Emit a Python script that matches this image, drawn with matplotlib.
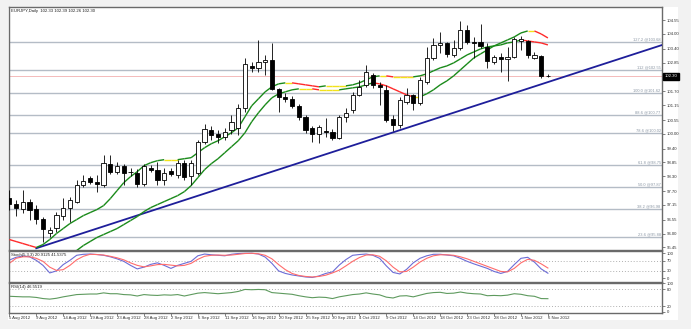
import numpy as np
import matplotlib.pyplot as plt
from matplotlib.patches import Rectangle
from matplotlib.collections import LineCollection
from matplotlib.transforms import blended_transform_factory

plt.rcParams['font.family'] = ['Liberation Sans', 'DejaVu Sans']

W, H = 691, 329
FS = 3.1

# EURJPY daily bars, 5 Aug 2012 .. 6 Nov 2012 (index 0..80)
opens = [97.43, 97.19, 96.99, 97.27, 96.99, 96.59, 96.03, 96.23, 96.71, 97.03,
         97.27, 97.95, 98.23, 98.07, 97.95, 98.79, 98.47, 98.71, 98.47, 98.43,
         97.99, 98.63, 98.55, 98.15, 98.51, 98.35, 98.83, 98.31, 98.43, 99.67,
         100.15, 99.99, 99.87, 100.15, 100.23, 101.04, 102.72, 102.64, 102.88, 102.96,
         101.80, 101.48, 101.40, 101.12, 100.68, 100.23, 99.99, 100.11, 100.07, 99.83,
         100.68, 100.96, 101.56, 101.96, 102.36, 101.96, 101.76, 100.60, 100.35, 101.28,
         101.56, 101.24, 102.08, 103.04, 103.56, 103.64, 103.16, 103.44, 104.16, 103.68,
         103.68, 103.48, 102.88, 103.08, 103.00, 103.08, 103.72, 103.72, 103.04, 103.12,
         102.33]
highs = [97.75, 97.35, 97.75, 97.39, 97.15, 96.67, 96.25, 96.87, 97.43, 97.47,
         98.15, 98.35, 98.31, 98.35, 99.15, 99.15, 98.87, 98.79, 98.63, 98.59,
         98.79, 98.75, 98.87, 98.63, 98.63, 98.95, 98.95, 98.95, 99.75, 100.39,
         100.31, 100.15, 100.23, 100.76, 101.20, 103.04, 102.88, 103.76, 103.16, 103.64,
         101.84, 101.64, 101.52, 101.20, 100.76, 100.31, 100.35, 100.64, 100.19, 100.76,
         101.04, 101.68, 102.16, 102.76, 102.44, 102.08, 101.96, 100.76, 101.48, 101.84,
         101.60, 102.28, 103.48, 103.84, 104.08, 103.68, 103.76, 104.52, 104.36, 103.88,
         104.40, 103.64, 103.16, 103.24, 103.48, 103.88, 103.92, 103.76, 103.28, 103.16,
         102.39]
lows = [96.95, 96.71, 96.83, 96.55, 96.39, 95.67, 95.87, 96.07, 96.55, 96.47,
        97.23, 97.87, 97.99, 97.67, 97.87, 98.39, 98.39, 97.95, 98.31, 97.87,
        97.91, 98.47, 97.95, 97.95, 98.31, 98.23, 98.15, 97.95, 98.35, 99.59,
        99.75, 99.63, 99.75, 99.99, 99.95, 100.88, 102.48, 102.48, 102.36, 101.76,
        100.88, 101.28, 101.04, 100.56, 100.04, 99.67, 99.63, 99.87, 99.75, 99.79,
        100.47, 100.84, 101.52, 101.88, 101.84, 101.16, 100.47, 100.11, 100.23, 101.20,
        100.96, 101.16, 102.00, 102.96, 103.24, 103.08, 103.08, 103.36, 103.60, 103.04,
        103.44, 102.64, 102.80, 102.48, 102.12, 103.04, 103.36, 103.04, 103.00, 102.24,
        102.26]
closes = [97.19, 97.03, 97.27, 96.95, 96.59, 96.19, 96.15, 96.75, 97.03, 97.35,
          97.95, 98.11, 98.07, 97.99, 98.83, 98.47, 98.71, 98.43, 98.45, 97.99,
          98.71, 98.55, 98.15, 98.43, 98.39, 98.83, 98.27, 98.83, 99.67, 100.19,
          99.95, 99.87, 100.07, 100.47, 101.04, 102.80, 102.64, 102.88, 102.96, 101.80,
          101.48, 101.40, 101.12, 100.68, 100.15, 99.99, 100.27, 100.07, 99.83, 100.68,
          100.84, 101.56, 101.88, 102.48, 101.96, 101.88, 100.55, 100.35, 101.36, 101.56,
          101.24, 102.16, 103.04, 103.56, 103.64, 103.20, 103.44, 104.16, 103.68, 103.64,
          103.52, 102.92, 103.08, 103.00, 103.08, 103.80, 103.80, 103.16, 103.16, 102.33,
          102.30]

# the two trend-coloured averages
ma_fast = [95.76, 95.68, 95.60, 95.52, 95.44, 95.56, 95.76, 96.00, 96.20, 96.40,
           96.56, 96.72, 96.84, 96.96, 97.12, 97.40, 97.72, 98.04, 98.28, 98.48,
           98.72, 98.84, 98.92, 98.96, 98.96, 98.96, 99.00, 99.04, 99.24, 99.44,
           99.60, 99.72, 99.88, 100.04, 100.24, 100.68, 101.12, 101.40, 101.68, 101.88,
           102.00, 102.04, 102.04, 102.00, 101.96, 101.92, 101.88, 101.92, 101.92, 101.92,
           101.92, 101.96, 102.04, 102.16, 102.28, 102.32, 102.32, 102.28, 102.28, 102.28,
           102.28, 102.32, 102.40, 102.52, 102.64, 102.72, 102.84, 103.00, 103.16, 103.28,
           103.40, 103.48, 103.52, 103.56, 103.64, 103.68, 103.76, 103.72, 103.68, 103.64,
           103.56]
ma_slow = [np.nan] * 10 + [
           95.32, 95.52, 95.68, 95.84, 95.96, 96.08, 96.20, 96.36, 96.52, 96.68,
           96.88, 97.04, 97.16, 97.28, 97.40, 97.52, 97.68, 97.92, 98.24, 98.56,
           98.80, 99.00, 99.24, 99.48, 99.72, 100.04, 100.48, 100.84, 101.16, 101.44,
           101.60, 101.68, 101.76, 101.80, 101.80, 101.80, 101.76, 101.76, 101.76, 101.76,
           101.80, 101.84, 101.88, 101.96, 102.04, 102.00, 101.92, 101.80, 101.68, 101.56,
           101.48, 101.48, 101.60, 101.76, 101.96, 102.12, 102.32, 102.56, 102.80, 103.04,
           103.20, 103.36, 103.52, 103.64, 103.76, 103.88, 104.04, 104.12, 104.12, 104.00,
           103.84]

stoch_main = [73, 84, 89, 86, 72, 52, 22, 30, 55, 72,
              92, 96, 97, 95, 92, 86, 78, 68, 52, 38,
              45, 56, 62, 52, 40, 52, 60, 68, 90, 97,
              94, 92, 90, 96, 99, 100, 100, 97, 85, 60,
              30, 20, 14, 10, 6, 4, 10, 20, 26, 53,
              75, 92, 95, 97, 92, 80, 50, 24, 18, 36,
              62, 80, 90, 96, 96, 93, 90, 80, 68, 58,
              49, 40, 28, 20, 28, 55, 80, 84, 65, 38,
              20.9125]
stoch_signal = [60, 80, 86, 86, 80, 68, 45, 32, 35, 52,
                74, 88, 96, 95, 93, 88, 82, 74, 62, 52,
                46, 50, 55, 56, 53, 50, 52, 60, 76, 88,
                92, 93, 92, 93, 96, 99, 100, 98, 92, 78,
                55, 35, 20, 12, 8, 6, 8, 13, 22, 33,
                50, 68, 83, 93, 94, 88, 70, 45, 26, 28,
                45, 65, 80, 90, 94, 94, 92, 86, 78, 68,
                58, 48, 38, 28, 26, 40, 62, 76, 72, 58,
                41.5375]
rsi = [55, 54, 53, 53, 51, 47, 45, 48, 53, 57,
       61, 62, 63, 63, 67, 64, 64, 61, 60, 56,
       61, 59, 58, 60, 59, 61, 56, 61, 66, 68,
       66, 64, 66, 68, 72, 79, 78, 79, 78, 68,
       66, 64, 62, 57, 53, 50, 52, 51, 47, 53,
       57, 61, 63, 67, 63, 60, 52, 49, 56, 57,
       53, 59, 65, 68, 69, 65, 66, 70, 66, 64,
       63, 57, 58, 57, 59, 64, 62, 57, 55, 47,
       46.5519]

date_labels = ['5 Aug 2012', '9 Aug 2012', '14 Aug 2012', '19 Aug 2012', '23 Aug 2012',
               '28 Aug 2012', '2 Sep 2012', '6 Sep 2012', '11 Sep 2012', '16 Sep 2012',
               '20 Sep 2012', '25 Sep 2012', '30 Sep 2012', '4 Oct 2012', '9 Oct 2012',
               '14 Oct 2012', '18 Oct 2012', '23 Oct 2012', '28 Oct 2012', '1 Nov 2012',
               '6 Nov 2012']
price_ticks = [104.55, 104.00, 103.40, 102.85, 101.70, 101.15, 100.55, 100.00,
               99.40, 98.85, 98.30, 97.70, 97.15, 96.55, 96.00, 95.45]
fib_names = ['127.2', '112', '100.0', '88.6', '78.6', '61.8', '50.0', '38.2', '23.6']
fib_prices = [103.68, 102.55, 101.62, 100.77, 100.02, 98.75, 97.87, 96.98, 95.88]
trend_bars = [4, 97]
trend_prices = [95.41, 103.56]
last_price = 102.30

n = len(closes)
idx = np.arange(n)

fig = plt.figure(figsize=(W / 100, H / 100), dpi=100, facecolor='#f2f2f2')
fig.patches.append(Rectangle((8 / W, 1 - 320 / H), 670 / W, 313 / H,
                             transform=fig.transFigure, facecolor='white',
                             edgecolor='none', zorder=-1))


def panel(y0, y1):
    ax = fig.add_axes([9 / W, 1 - y1 / H, 653 / W, (y1 - y0) / H])
    ax.set_facecolor('white')
    ax.set_xlim(-0.05, 96.95)
    for s in ax.spines.values():
        s.set_color('#6a6a6a')
        s.set_linewidth(1.0)
    ax.yaxis.tick_right()
    ax.tick_params(axis='y', length=2, width=0.5, color='#505050',
                   labelsize=FS, pad=1.2, labelcolor='#303030')
    ax.tick_params(axis='x', bottom=False, labelbottom=False)
    return ax


def trend_line(ax, vals):
    v = np.asarray(vals, dtype=float)
    segs, cols = [], []
    for i in range(len(v) - 1):
        if np.isnan(v[i]) or np.isnan(v[i + 1]):
            continue
        d = v[i + 1] - v[i]
        if d > 0.015:
            c = '#1a8a1a'
        elif d < -0.015:
            c = '#ff2a2a'
        else:
            c = '#f2e21a'
        segs.append([(i, v[i]), (i + 1, v[i + 1])])
        cols.append(c)
    ax.add_collection(LineCollection(segs, colors=cols, linewidths=1.0, zorder=4))


# ---- price panel
ax = panel(7, 250)
ax.set_ylim(95.34, 105.08)
ax.set_yticks(price_ticks)
ax.set_yticklabels(['%.2f' % p for p in price_ticks])

for name, p in zip(fib_names, fib_prices):
    ax.axhline(p, color='#b4bcc6', lw=1.0, zorder=1)
    ax.text(96.75, p + 0.02, '%s @%.2f' % (name, p), ha='right', va='bottom',
            fontsize=2.9, color='#8a96a4', zorder=2)
ax.axhline(last_price, color='#f2b0b0', lw=0.6, zorder=1)

o, hi, lo, c = map(np.asarray, (opens, highs, lows, closes))
ax.vlines(idx, lo, hi, color='black', lw=0.6, zorder=5)
up = c >= o
body_lo = np.minimum(o, c)
body_h = np.maximum(np.abs(c - o), 0.012)
ax.bar(idx[up], body_h[up], bottom=body_lo[up], width=0.62, facecolor='white',
       edgecolor='black', linewidth=0.6, zorder=6)
ax.bar(idx[~up], body_h[~up], bottom=body_lo[~up], width=0.62, facecolor='black',
       edgecolor='black', linewidth=0.6, zorder=6)

trend_line(ax, ma_fast)
trend_line(ax, ma_slow)
ax.plot(trend_bars, trend_prices, color='#1e1e9a', lw=1.3, zorder=3)

tr = blended_transform_factory(ax.transAxes, ax.transData)
ax.text(1.004, last_price, '%.2f' % last_price, transform=tr, fontsize=FS,
        color='white', va='center', ha='left',
        bbox=dict(boxstyle='square,pad=0.3', facecolor='black', edgecolor='black'),
        zorder=10, clip_on=False)
fig.text(11 / W, 1 - 11 / H, 'EURJPY,Daily  102.33 102.39 102.26 102.30',
         fontsize=FS, color='#202020', va='center')

# ---- stochastic panel
ax2 = panel(250.5, 281.5)
ax2.set_ylim(-12, 111)
ax2.set_yticks([100, 70, 30, 0])
ax2.set_yticklabels(['100', '70', '30', '0'])
for lev in (70, 30):
    ax2.axhline(lev, color='#b0b0b0', lw=0.7, ls=(0, (1, 2)))
ax2.plot(idx, stoch_main, color='#6c6cd6', lw=0.8)
ax2.plot(idx, stoch_signal, color='#ff6c6c', lw=0.8)
fig.text(11 / W, 1 - 255 / H, 'Stoch(5,3,3) 20.9125 41.5375',
         fontsize=FS, color='#202020', va='center')

# ---- RSI panel
ax3 = panel(283, 312.5)
ax3.set_ylim(-2, 101.7)
ax3.set_yticks([100, 80, 20, 0])
ax3.set_yticklabels(['100', '80', '20', '0'])
for lev in (80, 20):
    ax3.axhline(lev, color='#b0b0b0', lw=0.7, ls=(0, (1, 2)))
ax3.plot(idx, rsi, color='#5e9a5e', lw=0.8)
fig.text(11 / W, 1 - 287 / H, 'RSI(14) 46.5519',
         fontsize=FS, color='#202020', va='center')

ax3.set_xticks(idx[::4])
ax3.set_xticklabels(date_labels)
ax3.tick_params(axis='x', bottom=True, labelbottom=True, length=2, width=0.5,
                color='#505050', labelsize=FS, pad=0.8, labelcolor='#303030')
for t in ax3.get_xticklabels():
    t.set_ha('left')

fig.savefig('out.png', dpi=100, facecolor=fig.get_facecolor())
